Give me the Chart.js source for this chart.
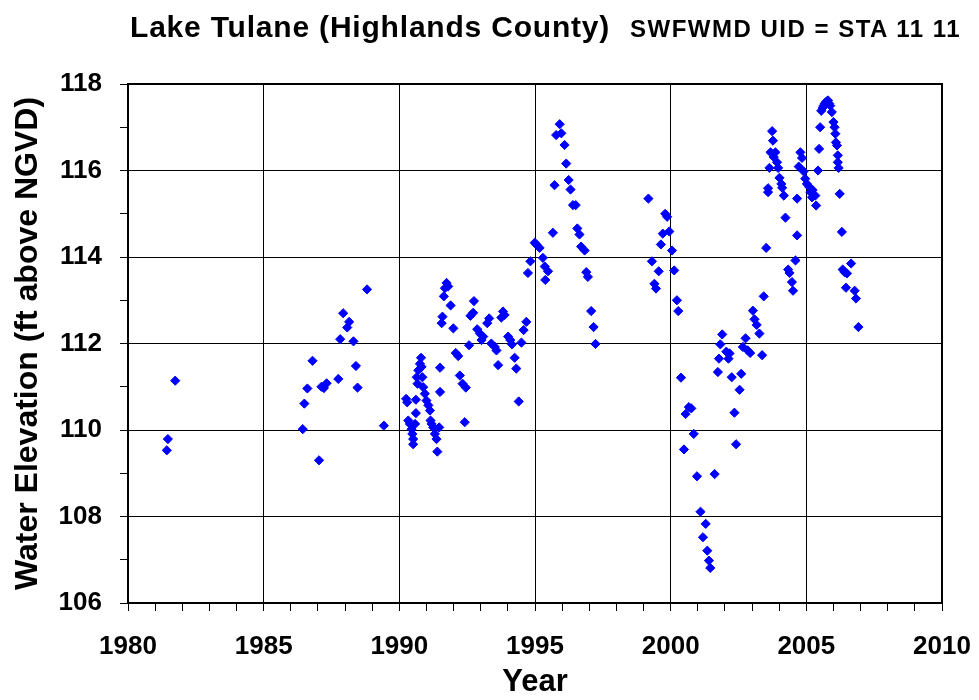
<!DOCTYPE html>
<html>
<head>
<meta charset="utf-8">
<script src="https://cdn.jsdelivr.net/npm/chart.js@4.4.1/dist/chart.umd.min.js"></script>
<style>
  html, body { margin: 0; padding: 0; background: #fff; }
  #wrap { position: relative; width: 979px; height: 700px; }
  #c { position: absolute; left: 0; top: 0; }
  .t { position: absolute; font-family: "Liberation Sans", Arial, sans-serif; font-weight: bold; color: #000; white-space: nowrap; line-height: 1; }
  #t1 { left: 130px; top: 12px; font-size: 30px; letter-spacing: 0.8px; }
  #t2 { left: 630px; top: 17px; font-size: 24px; letter-spacing: 1.5px; }
</style>
</head>
<body>
<div id="wrap">
  <canvas id="c" width="979" height="700"></canvas>
  <div class="t" id="t1">Lake Tulane (Highlands County)</div>
  <div class="t" id="t2">SWFWMD UID = STA 11 11</div>
</div>
<script>
// ---- Data ----
const years = [
  1981.43, 1981.47, 1981.74,
  1986.44, 1986.50, 1986.61, 1986.80, 1987.04, 1987.13, 1987.22, 1987.32, 1987.75, 1987.82,
  1987.93, 1988.08, 1988.15, 1988.31, 1988.40, 1988.46, 1988.81, 1989.43,
  1990.25, 1990.29, 1990.61, 1990.61, 1990.33, 1990.39, 1990.45, 1990.48, 1990.51, 1990.51,
  1990.58, 1990.64, 1990.67, 1990.70, 1990.76, 1990.80, 1990.82, 1990.85, 1990.88, 1990.94,
  1991.00, 1991.07, 1991.13, 1991.15, 1991.19, 1991.25, 1991.31, 1991.37, 1991.40, 1991.47,
  1991.50, 1991.50, 1991.56, 1991.59, 1991.64, 1991.68, 1991.74, 1991.80, 1991.89, 1991.99,
  1992.08, 1992.17, 1992.23, 1992.33, 1992.45, 1992.41, 1992.57, 1992.62, 1992.72, 1992.75,
  1992.87, 1992.97, 1993.03, 1993.09, 1993.24, 1993.31, 1993.39, 1993.52, 1993.58, 1993.64,
  1993.76, 1993.82, 1993.88, 1994.01, 1994.09, 1994.15, 1994.25, 1994.31, 1994.40, 1994.50,
  1994.58, 1994.68, 1994.74, 1994.83, 1994.99, 1995.05, 1995.17, 1995.29, 1995.36, 1995.48,
  1995.38, 1995.66,
  1995.91, 1995.78, 1995.97, 1996.09, 1996.15, 1995.72, 1996.24, 1996.31, 1996.40, 1996.50,
  1996.56, 1996.64, 1996.70, 1996.83, 1996.89, 1996.95, 1997.07, 1997.16, 1997.23,
  1999.18, 1999.31, 1999.40, 1999.46, 1999.56, 1999.64, 1999.71, 1999.80, 1999.87, 1999.95,
  2000.05, 2000.13, 2000.23, 2000.28, 2000.38,
  2000.67, 2000.76, 2000.55, 2000.85, 2000.49, 2000.97, 2001.62, 2001.10, 2001.29, 2001.19,
  2001.35, 2001.41, 2001.46, 2001.74, 2001.78, 2001.83, 2001.90, 2002.05, 2002.13, 2002.17,
  2002.25, 2002.35, 2002.41, 2002.54, 2002.60, 2002.66, 2002.76, 2002.84, 2002.93, 2003.03,
  2003.09, 2003.17, 2003.27, 2003.37, 2003.43, 2003.52,
  2003.59, 2003.59, 2003.64, 2003.68, 2003.74, 2003.77, 2003.80, 2003.86, 2003.92, 2003.96,
  2004.01, 2004.08, 2004.11, 2004.17, 2004.23, 2004.33, 2004.38, 2004.47, 2004.51, 2004.60,
  2004.66, 2004.66, 2004.72, 2004.78, 2004.84, 2004.90, 2004.96, 2005.02, 2005.11, 2005.15,
  2005.21, 2005.23, 2005.33, 2005.36, 2005.43, 2005.47, 2005.51, 2005.55, 2005.60, 2005.64,
  2005.68, 2005.72, 2005.76, 2005.80, 2005.84, 2005.88, 2005.94, 2006.00, 2006.04, 2006.07,
  2006.09, 2006.13, 2006.16, 2006.16, 2006.19, 2006.23, 2006.31, 2006.34, 2006.41, 2006.50,
  2006.46, 2006.65, 2006.78, 2006.83, 2006.92
];
const elevations = [
  109.53, 109.79, 111.14,
  110.02, 110.61, 110.96, 111.60, 109.30, 111.00, 110.97, 111.08, 111.18, 112.10,
  112.70, 112.37, 112.50, 112.05, 111.48, 110.98, 113.25, 110.10,
  110.72, 110.64, 110.70, 110.39, 110.22, 110.14, 110.02, 109.91, 109.79, 109.67,
  110.14, 111.22, 111.07, 111.38, 111.53, 111.67, 111.46, 111.22, 110.99, 110.84,
  110.68, 110.57, 110.45, 110.22, 110.14, 110.06, 109.91, 109.79, 109.50, 110.06,
  111.44, 110.88, 112.47, 112.62, 113.09, 113.28, 113.40, 113.32, 112.88, 112.35,
  111.78, 111.71, 111.26, 111.07, 110.98, 110.18, 111.96, 112.64, 112.71, 112.98,
  112.33, 112.23, 112.08, 112.16, 112.47, 112.58, 112.00, 111.92, 111.84, 111.50,
  112.60, 112.74, 112.66, 112.16, 112.08, 111.98, 111.67, 111.42, 110.66, 112.02,
  112.31, 112.50, 113.63, 113.90, 114.33, 114.29, 114.21, 113.98, 113.78, 113.67,
  113.47, 114.56,
  117.07, 116.82, 116.86, 116.59, 116.16, 115.66, 115.78, 115.56, 115.20, 115.20,
  114.66, 114.52, 114.24, 114.15, 113.65, 113.54, 112.75, 112.38, 111.99,
  115.35, 113.90, 113.38, 113.27, 113.67, 114.29, 114.54, 115.00, 114.93, 114.59,
  114.15, 113.69, 113.00, 112.75, 111.21,
  110.53, 110.50, 110.37, 109.91, 109.55, 108.93, 108.98, 108.11, 107.83, 107.52,
  107.21, 106.98, 106.81, 111.34, 111.65, 111.98, 112.21, 111.81, 111.65, 111.77,
  111.22, 110.40, 109.67, 110.93, 111.30, 111.92, 112.12, 111.84, 111.78, 112.76,
  112.56, 112.43, 112.23, 111.73, 113.09, 114.21,
  115.59, 115.50, 116.06, 116.42, 116.91, 116.69, 116.31, 116.42, 116.19, 116.06,
  115.83, 115.69, 115.60, 115.42, 114.91, 113.71, 113.63, 113.42, 113.22, 113.92,
  114.50, 115.35, 116.09, 116.42, 116.29, 115.98, 115.81, 115.69, 115.62, 115.50,
  115.38, 115.55, 115.42, 115.19, 116.00, 116.50, 117.00, 117.38, 117.45, 117.50,
  117.55, 117.58, 117.60, 117.62, 117.55, 117.50, 117.35, 117.12, 117.00, 116.85,
  116.65, 116.58, 116.35, 116.19, 116.06, 115.46, 114.58, 113.71, 113.65, 113.62,
  113.29, 113.85, 113.22, 113.04, 112.38
];
const xRange = [1980, 2010];
const yRange = [106, 118];
const xLabelEvery = 5;
const yLabelEvery = 2;
const xTitle = 'Year';
const yTitle = 'Water Elevation (ft above NGVD)';

const points = years.map((x, i) => ({ x: x, y: elevations[i] }));
const FONT = "'Liberation Sans', Arial, sans-serif";

const frame = {
  id: 'frame',
  afterDatasetsDraw(chart) {
    const { ctx, chartArea: a } = chart;
    ctx.save();
    ctx.strokeStyle = '#000';
    ctx.lineWidth = 2;
    ctx.strokeRect(a.left, a.top, a.right - a.left, a.bottom - a.top);
    ctx.restore();
  }
};

new Chart(document.getElementById('c'), {
  type: 'scatter',
  data: {
    datasets: [{
      label: 'Water Elevation',
      data: points,
      pointStyle: 'rectRot',
      pointRadius: 4.6,
      pointBackgroundColor: '#0000FF',
      pointBorderColor: '#0000FF',
      pointBorderWidth: 1,
      showLine: false
    }]
  },
  options: {
    responsive: false,
    animation: false,
    layout: { padding: { top: 84, right: 37, left: 0, bottom: 0 } },
    plugins: { legend: { display: false }, tooltip: { enabled: false }, title: { display: false } },
    scales: {
      x: {
        type: 'linear',
        min: xRange[0], max: xRange[1],
        afterFit: s => { s.height = 97; s.paddingLeft = 0; s.paddingRight = 0; },
        ticks: {
          stepSize: 1, autoSkip: false, maxRotation: 0, minRotation: 0,
          color: '#000', padding: 20,
          font: { family: FONT, size: 26, weight: 'bold' },
          callback: v => (Math.round(v) % xLabelEvery === 0 ? String(Math.round(v)) : '')
        },
        grid: {
          color: c => (c.tick && Math.round(c.tick.value) % xLabelEvery === 0 ? '#000' : 'rgba(0,0,0,0)'),
          tickColor: '#000', tickLength: 8, lineWidth: 1, tickWidth: 1
        },
        border: { color: '#000', width: 2 },
        title: {
          display: true, text: xTitle, color: '#000',
          font: { family: FONT, size: 31, weight: 'bold', lineHeight: 1 },
          padding: { top: 0, bottom: 2 }
        }
      },
      y: {
        type: 'linear',
        min: yRange[0], max: yRange[1],
        afterFit: s => { s.width = 128; s.paddingTop = 0; s.paddingBottom = 0; },
        ticks: {
          stepSize: 1, autoSkip: false,
          color: '#000', padding: 18,
          font: { family: FONT, size: 26, weight: 'bold' },
          callback: v => (Math.round(v) % yLabelEvery === 0 ? String(Math.round(v)) : '')
        },
        grid: {
          color: c => (c.tick && Math.round(c.tick.value) % yLabelEvery === 0 ? '#000' : 'rgba(0,0,0,0)'),
          tickColor: '#000', tickLength: 8, lineWidth: 1, tickWidth: 1
        },
        border: { color: '#000', width: 2 },
        title: {
          display: true, text: yTitle, color: '#000',
          font: { family: FONT, size: 32, weight: 'bold', lineHeight: 1 },
          padding: { top: 12, bottom: 0 }
        }
      }
    }
  },
  plugins: [frame]
});
</script>
</body>
</html>
